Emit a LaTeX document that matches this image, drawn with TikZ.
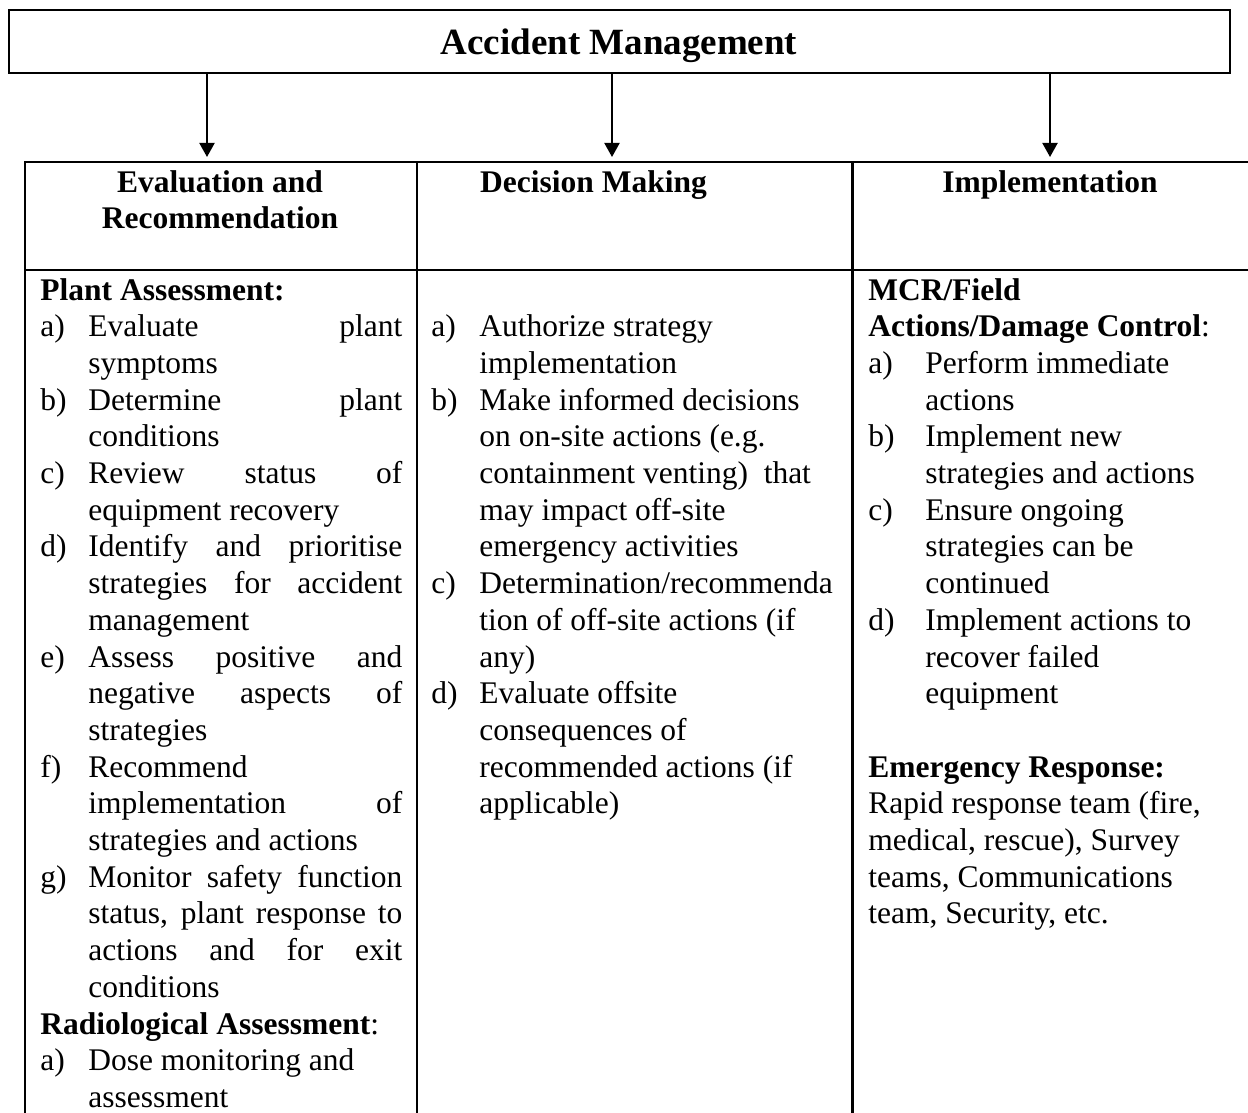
\documentclass[tikz,border=0pt]{standalone}
\usepackage{fontspec}
\setmainfont{Liberation Serif}
\usetikzlibrary{arrows.meta}
\newcommand\labbox[2][24pt]{\makebox[#1][l]{#2}}
\newcommand\justbox[1]{\makebox[157pt][s]{#1}}
\newcommand\indbox[1][24pt]{\hspace*{#1}}
\newcommand\labw[1]{\makebox[28.5pt][l]{#1}}
\newcommand\indw{\hspace*{28.5pt}}
\newcommand\bodyfont{\fontsize{15.75pt}{18.35pt}\selectfont}
\begin{document}
\begin{tikzpicture}[x=0.5pt,y=-0.5pt,
  bodytext/.style={anchor=base west, inner sep=0pt},
  headtext/.style={anchor=base, inner sep=0pt},
  titlebox/.style={draw, line width=1pt, inner sep=0pt, minimum width=610.5pt, minimum height=31.75pt},
  tablerule/.style={line width=1.15pt},
  arr/.style={line width=1pt, -{Triangle[length=7pt,width=7.5pt]}}]
\useasboundingbox (0,0) rectangle (1248,1113);

% title
\node[titlebox] (title) at (619.5,41.75) {};
\node[headtext, font=\fontsize{18.5pt}{22pt}\selectfont\bfseries] (titletext) at (619,55) {Accident Management};

% arrow ends on the table top
\coordinate (e1) at (207,157);
\coordinate (e2) at (612,157);
\coordinate (e3) at (1050,157);
\draw[arr] (title.south -| e1) -- (e1);
\draw[arr] (title.south -| e2) -- (e2);
\draw[arr] (title.south -| e3) -- (e3);

% table
\draw[tablerule] (25,1113) -- (25,162) -- (1248,162);
\draw[tablerule] (25,270) -- (1248,270);
\draw[tablerule] (417,162) -- (417,1113);
\draw[tablerule] (852.5,162) -- (852.5,1113);

% headers
\node[headtext] (h1) at (220,192) {\parbox[t]{200pt}{\centering\bodyfont\bfseries Evaluation and\\Recommendation}};
\node[headtext] (h2) at (593.5,192) {\bodyfont\bfseries Decision Making};
\node[headtext] (h3) at (1050,192) {\bodyfont\bfseries Implementation};

% column 1
\node[bodytext] (c1) at (40,300) {\parbox[t]{181pt}{\bodyfont
\textbf{Plant Assessment:}\\
\labbox{a)}\justbox{Evaluate plant}\\
\indbox symptoms\\
\labbox{b)}\justbox{Determine plant}\\
\indbox conditions\\
\labbox{c)}\justbox{Review status of}\\
\indbox equipment recovery\\
\labbox{d)}\justbox{Identify and prioritise}\\
\indbox\justbox{strategies for accident}\\
\indbox management\\
\labbox{e)}\justbox{Assess positive and}\\
\indbox\justbox{negative aspects of}\\
\indbox strategies\\
\labbox{f)}Recommend\\
\indbox\justbox{implementation of}\\
\indbox strategies and actions\\
\labbox{g)}\justbox{Monitor safety function}\\
\indbox\justbox{status, plant response to}\\
\indbox\justbox{actions and for exit}\\
\indbox conditions\\
\textbf{Radiological Assessment}:\\
\labbox{a)}Dose monitoring and\\
\indbox assessment}};

% column 2
\node[bodytext] (c2) at (431,336.7) {\parbox[t]{205pt}{\bodyfont
\labbox{a)}Authorize strategy\\
\indbox implementation\\
\labbox{b)}Make informed decisions\\
\indbox on on-site actions (e.g.\\
\indbox containment venting)\ \ that\\
\indbox may impact off-site\\
\indbox emergency activities\\
\labbox{c)}Determination/recommenda\\
\indbox tion of off-site actions (if\\
\indbox any)\\
\labbox{d)}Evaluate offsite\\
\indbox consequences of\\
\indbox recommended actions (if\\
\indbox applicable)}};

% column 3
\node[bodytext] (c3) at (868,300) {\parbox[t]{186pt}{\bodyfont
\textbf{MCR/Field}\\
\textbf{Actions/Damage Control}:\\
\labw{a)}Perform immediate\\
\indw actions\\
\labw{b)}Implement new\\
\indw strategies and actions\\
\labw{c)}Ensure ongoing\\
\indw strategies can be\\
\indw continued\\
\labw{d)}Implement actions to\\
\indw recover failed\\
\indw equipment\\
\mbox{}\\
\textbf{Emergency Response:}\\
Rapid response team (fire,\\
medical, rescue), Survey\\
teams, Communications\\
team, Security, etc.}};
\end{tikzpicture}
\end{document}
